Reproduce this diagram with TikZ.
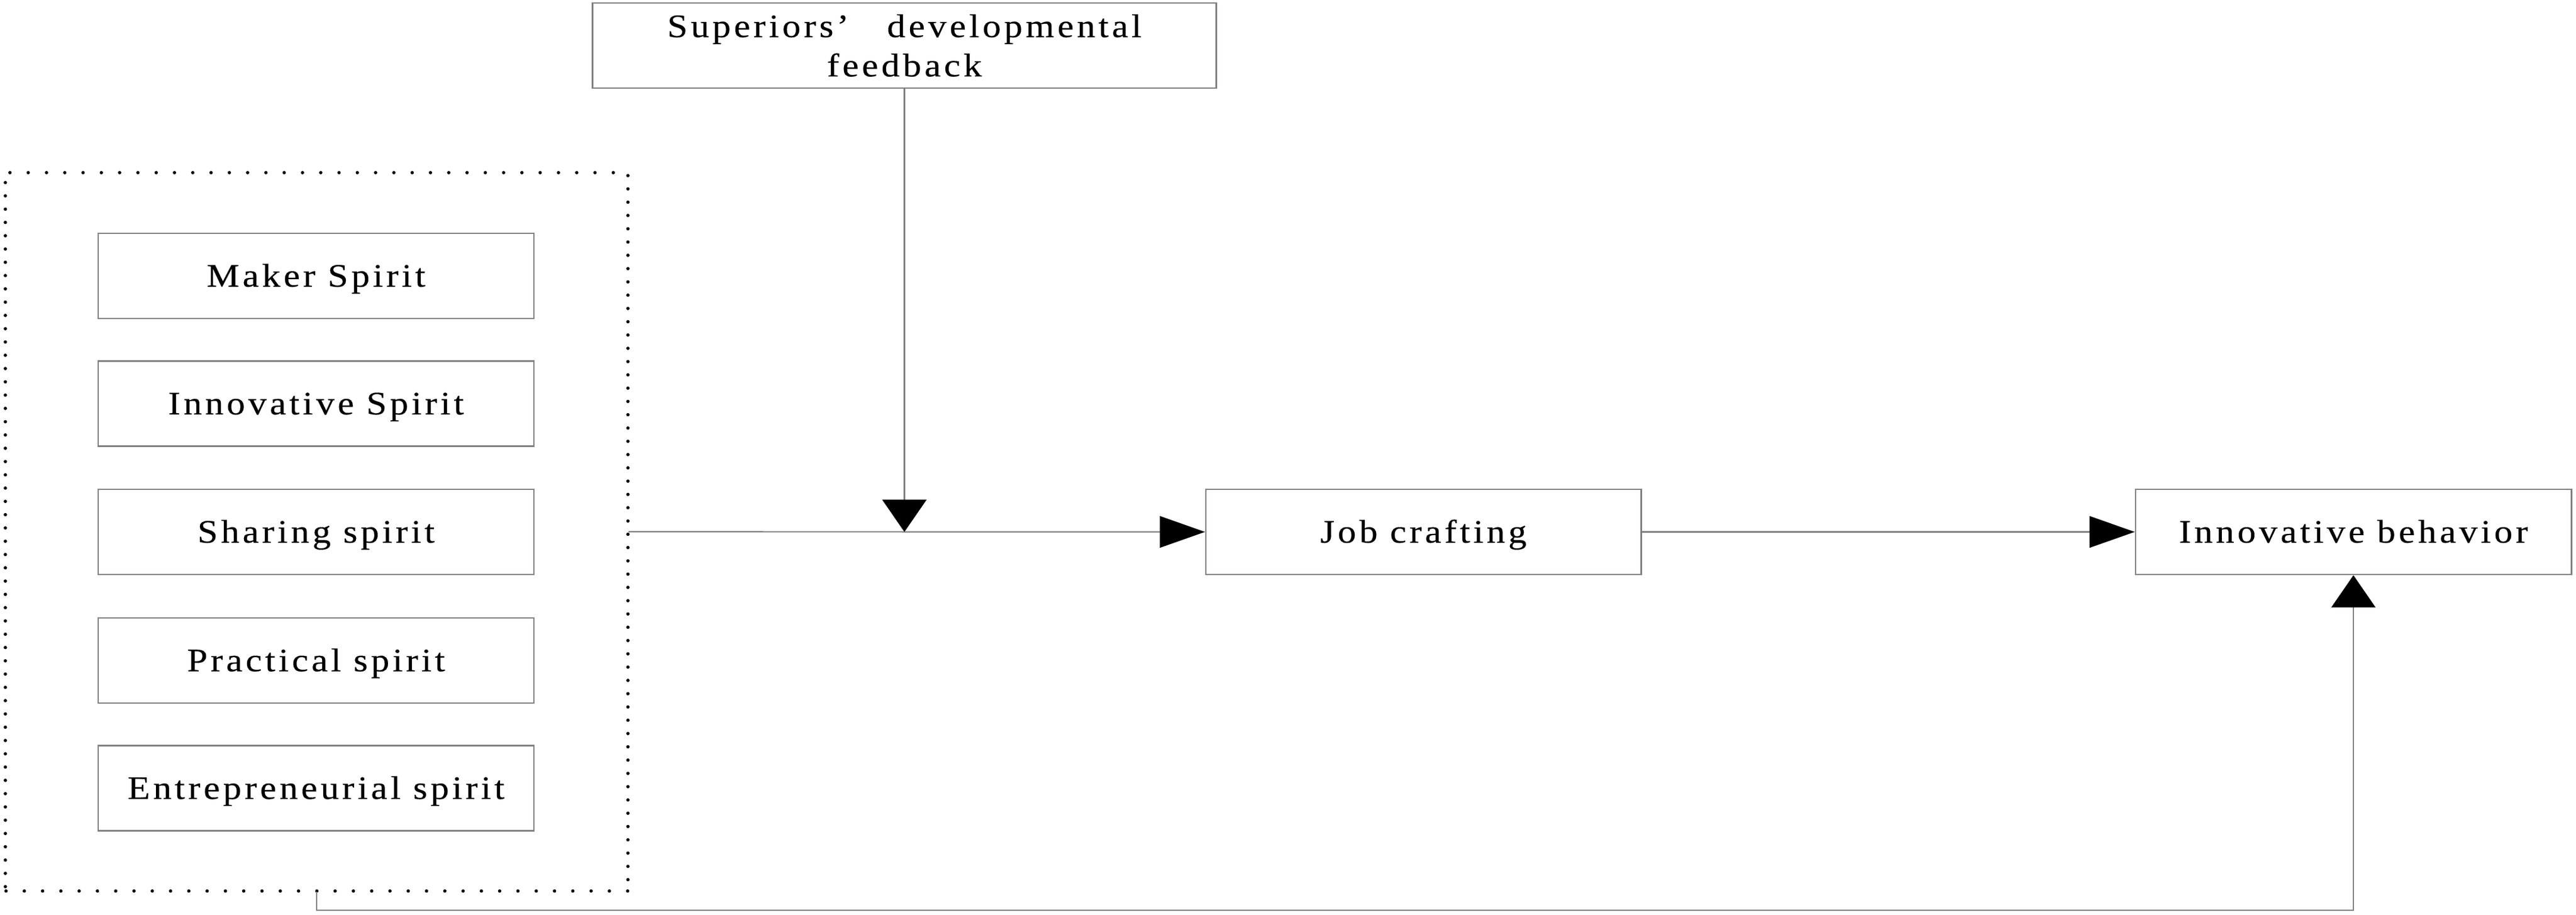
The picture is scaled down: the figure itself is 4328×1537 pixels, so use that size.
\documentclass[tikz,border=0pt]{standalone}
\usepackage{fontspec}
\setmainfont{Liberation Serif}[LetterSpace=9.8,FakeStretch=1.12,FakeBold=0.3]
\usetikzlibrary{arrows.meta}
\definecolor{edgegray}{RGB}{128,128,128}
\begin{document}
\begin{tikzpicture}[x=0.01cm,y=-0.01cm,
  txt/.style={font=\fontsize{15.65pt}{18.78pt}\selectfont, text=black},
  box/.style={txt, draw=edgegray, line width=0.025cm, minimum width=7.32cm,
    minimum height=1.43cm, inner sep=0pt, text height=0.36cm, text depth=0pt},
  conn/.style={draw=edgegray, line width=0.022cm},
  harr/.style={conn, -{Triangle[length=0.76cm,width=0.53cm,black]}},
  varr/.style={conn, -{Triangle[length=0.54cm,width=0.74cm,black]}},
  dotrow/.style={line width=0.056cm, line cap=round, dash pattern=on 0pt off 0.307cm},
  dotcol/.style={line width=0.056cm, line cap=round, dash pattern=on 0pt off 0.223cm}]
\useasboundingbox (0,0) rectangle (4328,1537);

% top moderator
\node[box, minimum width=10.47cm, text height=, text depth=, align=center] (sup) at (1519.5,76.5)
  {Superiors’\hspace{0.64cm}developmental\\feedback};

% dotted group
\node[minimum width=10.46cm, minimum height=12.07cm, inner sep=0pt] (grp) at (532,893.3) {};
\draw[dotrow] (16.7,290) -- (1052,290);
\draw[dotrow] (10.1,1496.7) -- (1058,1496.7);
\draw[dotcol] (9,306.7) -- (9,1490);
\draw[dotcol] (1055,295) -- (1055,1490);

% left boxes
\node[box] (maker) at (531,463.5) {Maker Spirit};
\node[box] (innov) at (531,678) {Innovative Spirit};
\node[box] (share) at (531,893.5) {Sharing spirit};
\node[box] (pract) at (531,1109.5) {Practical spirit};
\node[box] (entre) at (531,1324) {Entrepreneurial spirit};

% right boxes
\node[box, minimum width=7.31cm] (job) at (2391.5,893.5) {Job crafting};
\node[box] (ib) at (3954,893.5) {Innovative behavior};

% connectors
\draw[harr] (grp.east) -- (job.west);
\draw[varr] (sup.south) -- (sup.south |- job.west);
\draw[harr] (job.east) -- (ib.west);
\draw[varr] (grp.south) -- ++(0,31) -| (ib.south);
\end{tikzpicture}
\end{document}
